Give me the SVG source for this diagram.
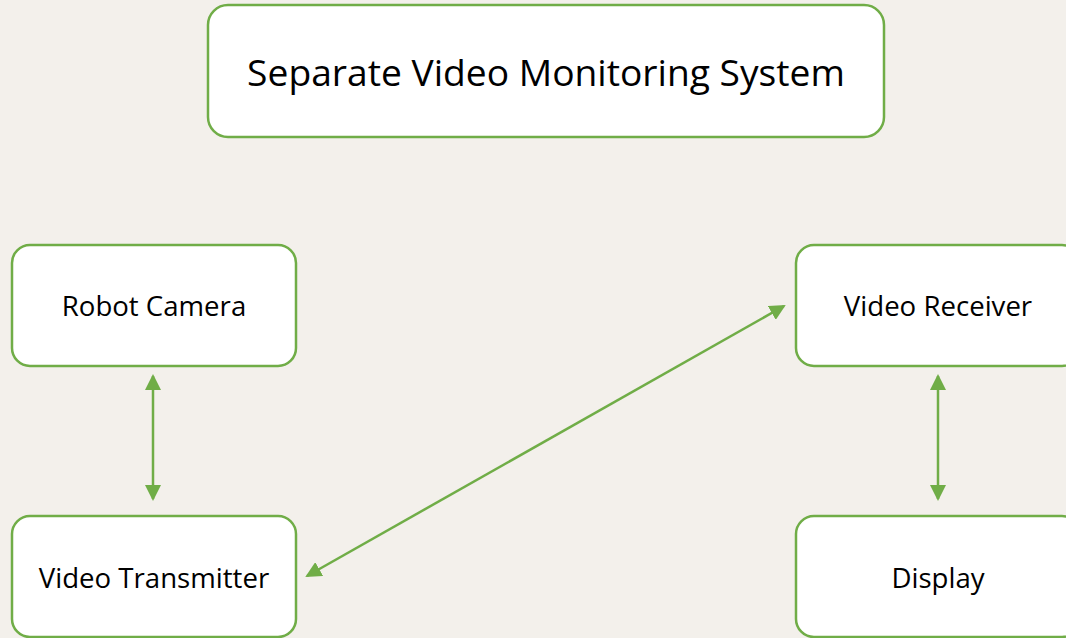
<svg xmlns="http://www.w3.org/2000/svg" width="1066" height="638" viewBox="0 0 1066 638">
<style>
.box{fill:#ffffff;stroke:#70AD47;stroke-width:2.5}
.lbl{font-family:"Open Sans","Liberation Sans",sans-serif;fill:#000;text-anchor:middle;dominant-baseline:central}
.con{stroke:#70AD47;stroke-width:2.5;fill:none}
</style>
<defs>
<marker id="ah" viewBox="0 0 16 16" refX="14" refY="8" markerWidth="16" markerHeight="16" markerUnits="userSpaceOnUse" orient="auto-start-reverse">
<path d="M0,0 L16,8 L0,16 Z" fill="#70AD47"/>
</marker>
</defs>
<rect width="1066" height="638" fill="#F3F0EB"/>
<g id="title">
<rect class="box" x="208" y="5" width="676" height="132" rx="20"/>
<text class="lbl" x="546" y="71" font-size="37.2">Separate Video Monitoring System</text>
</g>
<g id="robot-camera">
<rect class="box" x="12" y="245" width="284" height="121" rx="18"/>
<text class="lbl" x="154" y="305" font-size="27.6">Robot Camera</text>
</g>
<g id="video-receiver">
<rect class="box" x="796" y="245" width="284" height="121" rx="18"/>
<text class="lbl" x="938" y="305" font-size="27.6">Video Receiver</text>
</g>
<g id="video-transmitter">
<rect class="box" x="12" y="516" width="284" height="121" rx="18"/>
<text class="lbl" x="154" y="577" font-size="27.6">Video Transmitter</text>
</g>
<g id="display">
<rect class="box" x="796" y="516" width="284" height="121" rx="18"/>
<text class="lbl" x="938" y="577" font-size="27.6">Display</text>
</g>
<g id="connectors">
<line class="con" x1="153" y1="376" x2="153" y2="499" marker-start="url(#ah)" marker-end="url(#ah)"/>
<line class="con" x1="938" y1="376" x2="938" y2="499" marker-start="url(#ah)" marker-end="url(#ah)"/>
<line class="con" x1="307" y1="576" x2="784" y2="306" marker-start="url(#ah)" marker-end="url(#ah)"/>
</g>
</svg>
